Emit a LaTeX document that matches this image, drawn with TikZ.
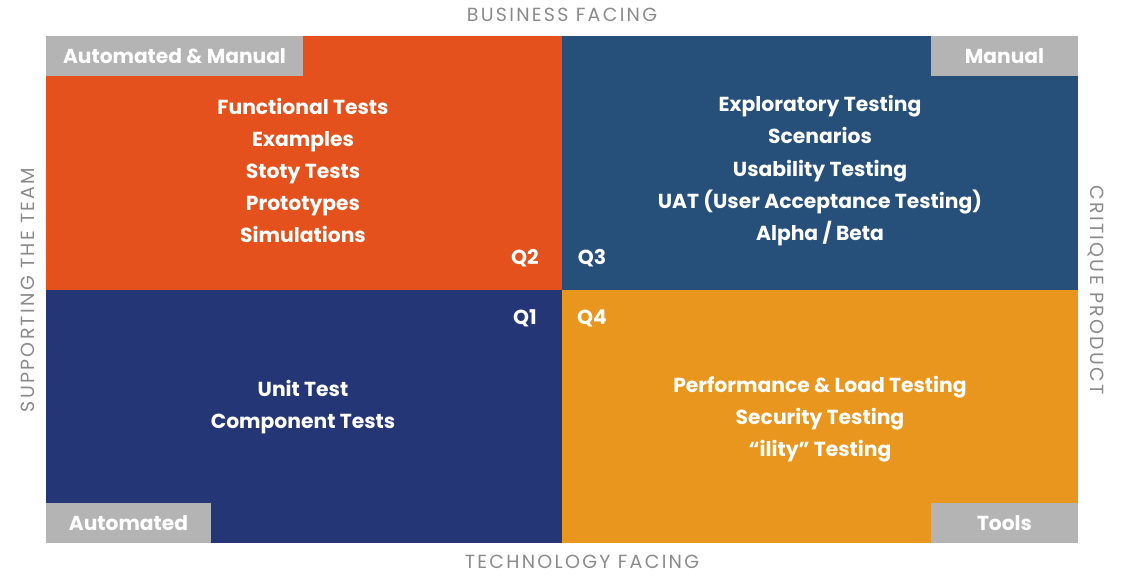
\documentclass[tikz,border=0pt]{standalone}
\usepackage{fontspec}
\setmainfont{Poppins}
\newfontfamily\axisfont[LetterSpace=12]{Poppins}
\usepackage{tikz}
\definecolor{qorange}{HTML}{E5511C}
\definecolor{qblue}{HTML}{26507A}
\definecolor{qnavy}{HTML}{253677}
\definecolor{qyellow}{HTML}{E8961E}
\definecolor{qgray}{HTML}{B4B4B4}
\definecolor{axisgray}{HTML}{8A8A8A}

\begin{document}
\begin{tikzpicture}
  [x = 1pt, y = -1pt,
   item/.style = {text = white, text height = 15pt, text depth = 1pt,
     font = \fontsize{20.3}{24}\selectfont\bfseries},
   tag/.style = {fill = qgray, text = white, inner sep = 0pt,
     minimum height = 40pt, font = \fontsize{20.2}{24}\selectfont\bfseries},
   axis/.style = {text = axisgray, font = \axisfont\fontsize{19}{22}\selectfont}]
    \useasboundingbox (0,0) rectangle (1128,588);
    \fill[qorange] (46,36) rectangle (562,290);
    \fill[qblue] (562,36) rectangle (1078,290);
    \fill[qnavy] (46,290) rectangle (562,543);
    \fill[qyellow] (562,290) rectangle (1078,543);

    \node[axis] (top) at (562,15) {BUSINESS FACING};
    \node[axis] (bottom) at (582,562) {TECHNOLOGY FACING};
    \node[axis, rotate = 90] (left) at (28,290) {SUPPORTING THE TEAM};
    \node[axis, rotate = -90] (right) at (1096,290) {CRITIQUE PRODUCT};

    \node[tag, minimum width = 257pt] (t1) at (174.5,56) {Automated \& Manual};
    \node[tag, minimum width = 147pt] (t2) at (1004.5,56) {Manual};
    \node[tag, minimum width = 165pt] (t3) at (128.5,523) {Automated};
    \node[tag, minimum width = 147pt] (t4) at (1004.5,523) {Tools};

    \node[item] (a1) at (303,108) {Functional Tests};
    \node[item] (a2) at (303,140) {Examples};
    \node[item] (a3) at (303,172) {Stoty Tests};
    \node[item] (a4) at (303,204) {Prototypes};
    \node[item] (a5) at (303,236) {Simulations};

    \node[item] (b1) at (820,105) {Exploratory Testing};
    \node[item] (b2) at (820,137) {Scenarios};
    \node[item] (b3) at (820,170) {Usability Testing};
    \node[item] (b4) at (820,202) {UAT (User Acceptance Testing)};
    \node[item] (b5) at (820,234) {Alpha / Beta};

    \node[item] (c1) at (303,389) {Unit Test};
    \node[item] (c2) at (303,421) {Component Tests};

    \node[item] (d1) at (820,385) {Performance \& Load Testing};
    \node[item] (d2) at (820,417) {Security Testing};
    \node[item] (d3) at (820,449) {``ility'' Testing};

    \node[item] (q2) at (525,258) {Q2};
    \node[item] (q3) at (592,258) {Q3};
    \node[item] (q1) at (525,317) {Q1};
    \node[item] (q4) at (592,317) {Q4};
  \end{tikzpicture}
\end{document}
